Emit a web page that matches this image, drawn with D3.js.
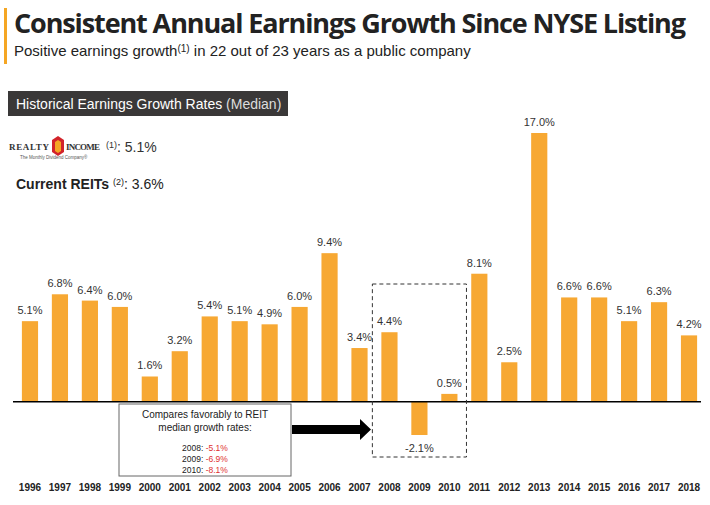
<!DOCTYPE html>
<html><head><meta charset="utf-8">
<script src="https://cdn.jsdelivr.net/npm/d3@7"></script>
<style>body{margin:0;background:#fff;font-family:"Liberation Sans",Arial,sans-serif}</style>
</head><body><div id="chart"></div>
<script>
// Data
var years = ["1996","1997","1998","1999","2000","2001","2002","2003","2004","2005","2006","2007","2008","2009","2010","2011","2012","2013","2014","2015","2016","2017","2018"];
var growth = [5.1,6.8,6.4,6.0,1.6,3.2,5.4,5.1,4.9,6.0,9.4,3.4,4.4,-2.1,0.5,8.1,2.5,17.0,6.6,6.6,5.1,6.3,4.2];
var reitYears = ["2008","2009","2010"];
var reitRates = ["-5.1%","-6.9%","-8.1%"];

var svg = d3.select("#chart").append("svg").attr("width", 710).attr("height", 505);

var x = d3.scaleBand().domain(years).range([15, 704]).paddingInner(0.46).paddingOuter(0.23);
var y = d3.scaleLinear().domain([-2.1, 17.0]).range([435, 133]);

// Title
svg.append("rect").attr("x", 4).attr("y", 8).attr("width", 3).attr("height", 56).attr("fill", "#f5a623");
svg.append("text").attr("x", 14).attr("y", 33).attr("font-size", 27).attr("font-weight", "bold")
  .attr("font-family", "'Open Sans', sans-serif").attr("fill", "#222").attr("textLength", 672)
  .text("Consistent Annual Earnings Growth Since NYSE Listing");
var sub = svg.append("text").attr("x", 14).attr("y", 56).attr("font-size", 15).attr("fill", "#222");
sub.append("tspan").text("Positive earnings growth");
sub.append("tspan").attr("font-size", 10).attr("dy", -4).text("(1)");
sub.append("tspan").attr("dy", 4).text(" in 22 out of 23 years as a public company");

// Header box
svg.append("rect").attr("x", 8).attr("y", 91).attr("width", 280).attr("height", 25).attr("fill", "#3a3838");
var hb = svg.append("text").attr("x", 16).attr("y", 109).attr("font-size", 14).attr("fill", "#fff");
hb.append("tspan").text("Historical Earnings Growth Rates ");
hb.append("tspan").attr("fill", "#ddd").text("(Median)");

// Logo
svg.append("text").attr("x", 9).attr("y", 150).attr("font-family", "'Liberation Serif', serif").attr("font-size", 9)
  .attr("font-weight", "bold").attr("fill", "#333").attr("textLength", 40).text("REALTY");
svg.append("path").attr("d", "M52,140 L58,136 L64,140 L64,152 L58,156 L52,152 Z").attr("fill", "#d2232a");
svg.append("path").attr("d", "M55,142 L58,140 L61,142 L61,151 L58,153 L55,151 Z").attr("fill", "#f5a623");
svg.append("text").attr("x", 66).attr("y", 150).attr("font-family", "'Liberation Serif', serif").attr("font-size", 9)
  .attr("font-weight", "bold").attr("fill", "#333").attr("textLength", 34).text("INCOME");
svg.append("text").attr("x", 20).attr("y", 159).attr("font-size", 4.5).attr("fill", "#555").text("The Monthly Dividend Company\u00ae");
var l1 = svg.append("text").attr("x", 106).attr("y", 152).attr("font-size", 14).attr("fill", "#333");
l1.append("tspan").attr("font-size", 9).attr("dy", -4).text("(1)");
l1.append("tspan").attr("dy", 4).text(": 5.1%");
var l2 = svg.append("text").attr("x", 16).attr("y", 189).attr("font-size", 14).attr("fill", "#222");
l2.append("tspan").attr("font-weight", "bold").text("Current REITs ");
l2.append("tspan").attr("font-size", 9).attr("dy", -4).text("(2)");
l2.append("tspan").attr("dy", 4).text(": 3.6%");

// Bars
svg.selectAll("rect.bar").data(growth).enter().append("rect").attr("class", "bar")
  .attr("x", (d, i) => x(years[i])).attr("width", x.bandwidth())
  .attr("y", d => y(Math.max(0, d))).attr("height", d => Math.abs(y(d) - y(0)))
  .attr("fill", "#f7a833");
svg.selectAll("text.val").data(growth).enter().append("text").attr("class", "val")
  .attr("x", (d, i) => x(years[i]) + x.bandwidth() / 2)
  .attr("y", d => d < 0 ? y(d) + 17 : y(d) - 7)
  .attr("text-anchor", "middle").attr("font-size", 11).attr("fill", "#333")
  .text(d => d.toFixed(1) + "%");

// Axis
svg.append("line").attr("x1", 13).attr("x2", 701).attr("y1", y(0)).attr("y2", y(0)).attr("stroke", "#000").attr("stroke-width", 1.5);
var xAxis = svg.append("g").attr("transform", "translate(0,484)")
  .call(d3.axisBottom(x).tickSize(0).tickPadding(0));
xAxis.select(".domain").remove();
xAxis.selectAll("text").attr("font-size", 10).attr("font-weight", "bold").attr("fill", "#222")
  .attr("font-family", "'Liberation Sans', Arial, sans-serif");

// Dashed box around 2008-2010
var bx0 = x("2008") - 9, bx1 = x("2010") + x.bandwidth() + 9;
svg.append("rect").attr("x", bx0).attr("y", 284).attr("width", bx1 - bx0).attr("height", 173)
  .attr("fill", "none").attr("stroke", "#333").attr("stroke-dasharray", "4,3");

// Annotation box
svg.append("rect").attr("x", 119).attr("y", 404).attr("width", 172).attr("height", 72)
  .attr("fill", "#fff").attr("stroke", "#666");
svg.append("text").attr("x", 205).attr("y", 418).attr("text-anchor", "middle").attr("font-size", 10).attr("fill", "#222").text("Compares favorably to REIT");
svg.append("text").attr("x", 205).attr("y", 431).attr("text-anchor", "middle").attr("font-size", 10).attr("fill", "#222").text("median growth rates:");
reitYears.forEach(function(yr, i) {
  var t = svg.append("text").attr("x", 205).attr("y", 451 + i * 11).attr("text-anchor", "middle").attr("font-size", 8.5).attr("fill", "#222");
  t.append("tspan").text(yr + ": ");
  t.append("tspan").attr("fill", "#e03030").text(reitRates[i]);
});
// Arrow
svg.append("path").attr("d", "M292,425 L360,425 L360,419 L371,429.5 L360,440 L360,434 L292,434 Z").attr("fill", "#000");
</script></body></html>
